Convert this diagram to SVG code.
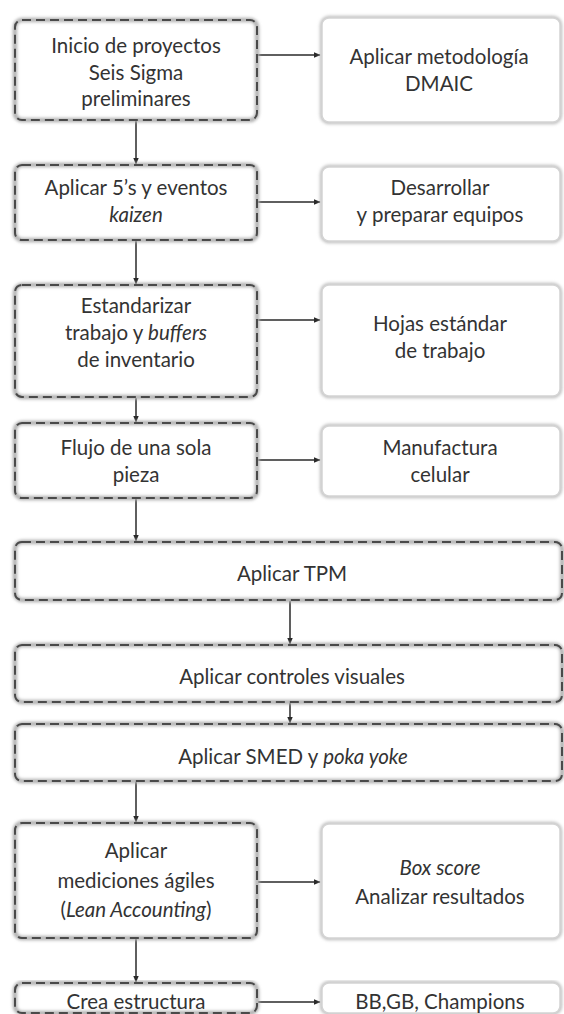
<svg xmlns="http://www.w3.org/2000/svg" width="564" height="1014" viewBox="0 0 564 1014">
<style>
.t{font-family:Lato,"Open Sans","Liberation Sans",sans-serif;font-size:20.5px;fill:#333;text-anchor:middle;dominant-baseline:central}
.i{font-style:italic}
.halo{fill:#fff;stroke:#b0b0b0;stroke-width:4.5;filter:url(#blur)}
.dash{fill:none;stroke:#4a4a4a;stroke-width:2;stroke-dasharray:9 5}
.solid{fill:#fff;stroke:#c2c2c2;stroke-width:4.5;filter:url(#blur)}
.solidin{fill:#fff;stroke:#d4d4d4;stroke-width:1.5}
.c{stroke:#2a2a2a;stroke-width:1.5;fill:none;marker-end:url(#ah)}
</style>
<defs>
<filter id="blur" x="-5%" y="-10%" width="110%" height="120%"><feGaussianBlur stdDeviation="1.4"/></filter>
<marker id="ah" viewBox="0 0 10 10" refX="9" refY="5" markerWidth="7" markerHeight="7" markerUnits="userSpaceOnUse" orient="auto"><path d="M0,1 L10,5 L0,9 z" fill="#2a2a2a"/></marker>
</defs>
<rect width="564" height="1014" fill="#fff"/>
<g id="connectors">
<line class="c" x1="258" y1="55" x2="320" y2="55"/>
<line class="c" x1="136" y1="121" x2="136" y2="164"/>
<line class="c" x1="258" y1="202" x2="320" y2="202"/>
<line class="c" x1="136" y1="241" x2="136" y2="284"/>
<line class="c" x1="258" y1="320" x2="320" y2="320"/>
<line class="c" x1="136" y1="398" x2="136" y2="422"/>
<line class="c" x1="258" y1="460" x2="320" y2="460"/>
<line class="c" x1="136" y1="499" x2="136" y2="541"/>
<line class="c" x1="290" y1="601" x2="290" y2="644"/>
<line class="c" x1="290" y1="703" x2="290" y2="723"/>
<line class="c" x1="136" y1="782" x2="136" y2="822"/>
<line class="c" x1="258" y1="882" x2="320" y2="882"/>
<line class="c" x1="136" y1="939" x2="136" y2="982"/>
<line class="c" x1="258" y1="1002" x2="320" y2="1002"/>
</g>
<g id="n1">
<rect class="halo" x="15" y="20" width="242" height="100" rx="7"/>
<rect class="dash" x="15" y="20" width="242" height="100" rx="7"/>
<text class="t" x="136" y="45">Inicio de proyectos</text>
<text class="t" x="136" y="72">Seis Sigma</text>
<text class="t" x="136" y="98">preliminares</text>
</g>
<g id="r1">
<rect class="solid" x="322" y="18" width="238" height="104" rx="7"/>
<rect class="solidin" x="322" y="18" width="238" height="104" rx="7"/>
<text class="t" x="439" y="56">Aplicar metodología</text>
<text class="t" x="439" y="83">DMAIC</text>
</g>
<g id="n2">
<rect class="halo" x="15" y="165" width="242" height="75" rx="7"/>
<rect class="dash" x="15" y="165" width="242" height="75" rx="7"/>
<text class="t" x="136" y="187">Aplicar 5’s y eventos</text>
<text class="t i" x="136" y="214">kaizen</text>
</g>
<g id="r2">
<rect class="solid" x="322" y="167" width="238" height="74" rx="7"/>
<rect class="solidin" x="322" y="167" width="238" height="74" rx="7"/>
<text class="t" x="440" y="187">Desarrollar</text>
<text class="t" x="440" y="214">y preparar equipos</text>
</g>
<g id="n3">
<rect class="halo" x="15" y="285" width="242" height="112" rx="7"/>
<rect class="dash" x="15" y="285" width="242" height="112" rx="7"/>
<text class="t" x="136" y="305">Estandarizar</text>
<text class="t" x="136" y="332">trabajo y <tspan class="i">buffers</tspan></text>
<text class="t" x="136" y="359">de inventario</text>
</g>
<g id="r3">
<rect class="solid" x="322" y="285" width="238" height="111" rx="7"/>
<rect class="solidin" x="322" y="285" width="238" height="111" rx="7"/>
<text class="t" x="440" y="323">Hojas estándar</text>
<text class="t" x="440" y="350">de trabajo</text>
</g>
<g id="n4">
<rect class="halo" x="15" y="423" width="242" height="75" rx="7"/>
<rect class="dash" x="15" y="423" width="242" height="75" rx="7"/>
<text class="t" x="136" y="447">Flujo de una sola</text>
<text class="t" x="136" y="474">pieza</text>
</g>
<g id="r4">
<rect class="solid" x="322" y="426" width="238" height="70" rx="7"/>
<rect class="solidin" x="322" y="426" width="238" height="70" rx="7"/>
<text class="t" x="440" y="447">Manufactura</text>
<text class="t" x="440" y="474">celular</text>
</g>
<g id="n5">
<rect class="halo" x="15" y="542" width="547" height="58" rx="7"/>
<rect class="dash" x="15" y="542" width="547" height="58" rx="7"/>
<text class="t" x="292" y="573">Aplicar TPM</text>
</g>
<g id="n6">
<rect class="halo" x="15" y="645" width="547" height="57" rx="7"/>
<rect class="dash" x="15" y="645" width="547" height="57" rx="7"/>
<text class="t" x="292" y="676">Aplicar controles visuales</text>
</g>
<g id="n7">
<rect class="halo" x="15" y="724" width="547" height="57" rx="7"/>
<rect class="dash" x="15" y="724" width="547" height="57" rx="7"/>
<text class="t" x="293" y="756">Aplicar SMED y <tspan class="i">poka yoke</tspan></text>
</g>
<g id="n8">
<rect class="halo" x="15" y="823" width="242" height="115" rx="7"/>
<rect class="dash" x="15" y="823" width="242" height="115" rx="7"/>
<text class="t" x="136" y="850">Aplicar</text>
<text class="t" x="136" y="880">mediciones ágiles</text>
<text class="t" x="136" y="909">(<tspan class="i">Lean Accounting</tspan>)</text>
</g>
<g id="r8">
<rect class="solid" x="322" y="824" width="238" height="114" rx="7"/>
<rect class="solidin" x="322" y="824" width="238" height="114" rx="7"/>
<text class="t i" x="440" y="867">Box score</text>
<text class="t" x="440" y="896">Analizar resultados</text>
</g>
<g id="n9">
<rect class="halo" x="15" y="983" width="242" height="30" rx="7"/>
<rect class="dash" x="15" y="983" width="242" height="30" rx="7"/>
<text class="t" x="136" y="1001">Crea estructura</text>
</g>
<g id="r9">
<rect class="solid" x="322" y="983" width="238" height="30" rx="7"/>
<rect class="solidin" x="322" y="983" width="238" height="30" rx="7"/>
<text class="t" x="440" y="1001">BB,GB, Champions</text>
</g>
</svg>
